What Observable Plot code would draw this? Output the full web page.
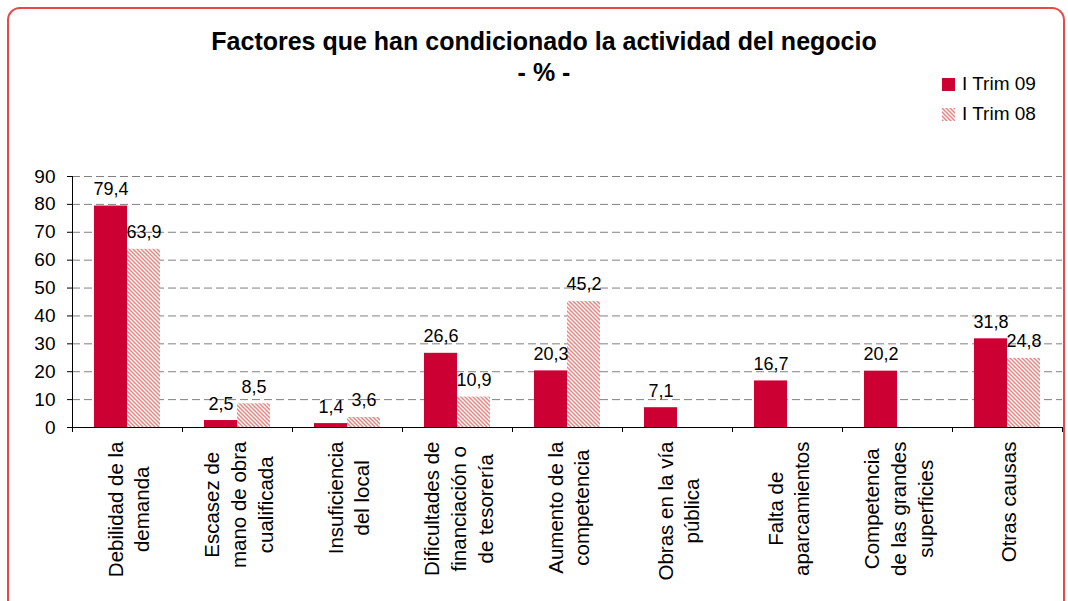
<!DOCTYPE html>
<html><head><meta charset="utf-8">
<script src="https://cdn.jsdelivr.net/npm/d3@7"></script>
<script src="https://cdn.jsdelivr.net/npm/@observablehq/plot@0.6"></script>
<style>
body{margin:0;background:#fff;overflow:hidden;font-family:"Liberation Sans",Arial,sans-serif;color:#000}
#wrap{position:relative;width:1068px;height:601px;overflow:hidden}
#chart{position:absolute;left:0;top:0}
#border{position:absolute;left:7px;top:7px;width:1054px;height:610px;border:2px solid #E8484A;border-radius:13px;pointer-events:none}
#title{position:absolute;left:0;width:1088px;top:26px;text-align:center;font-weight:bold;font-size:25px;line-height:31px}
#legend{position:absolute;left:942px;top:69px;font-size:19px}
#legend .row{display:flex;align-items:center;height:30px}
#legend svg{margin-right:7px}
#defs{position:absolute;width:0;height:0}
</style></head>
<body>
<svg id="defs"><defs>
<pattern id="hatch08" patternUnits="userSpaceOnUse" width="4" height="4">
<rect width="4" height="4" fill="#fff"/>
<path d="M-1,-1L5,5M-1,3L1,5M3,-1L5,1" stroke="#F08282" stroke-width="1.5"/>
</pattern></defs></svg>
<div id="wrap">
<div id="chart"></div>
<div id="title">Factores que han condicionado la actividad del negocio<br>- % -</div>
<div id="legend"></div>
<div id="border"></div>
</div>
<script>
const categories = ["Debilidad de la\ndemanda","Escasez de\nmano de obra\ncualificada","Insuficiencia\ndel local","Dificultades de\nfinanciación o\nde tesorería","Aumento de la\ncompetencia","Obras en la vía\npública","Falta de\naparcamientos","Competencia\nde las grandes\nsuperficies","Otras causas"];
const trim09 = [79.4,2.5,1.4,26.6,20.3,7.1,16.7,20.2,31.8];
const trim08 = [63.9,8.5,3.6,10.9,45.2,null,null,null,24.8];
const seriesNames = ["I Trim 09","I Trim 08"];
const seriesFills = ["#CC0033","url(#hatch08)"];
const yTicks = [0,10,20,30,40,50,60,70,80,90];

const W=1068,H=601,mL=72,mR=6,mT=176,mB=174;
const bw=(W-mL-mR)/categories.length;
const d09 = categories.map((c,i)=>({cat:c,v:trim09[i]}));
const d08 = categories.map((c,i)=>({cat:c,v:trim08[i]})).filter(d=>d.v!=null);
const fmt = v => d3.format(".1f")(v).replace(".",",");

const plot = Plot.plot({
  width:W,height:H,marginLeft:mL,marginRight:mR,marginTop:mT,marginBottom:mB,
  style:{background:"transparent",fontFamily:"'Liberation Sans', Arial, sans-serif",color:"#000"},
  x:{domain:categories,padding:0,label:null},
  y:{domain:[0,90],label:null},
  marks:[
    Plot.ruleY(yTicks.filter(t=>t>0),{stroke:"#808080",strokeDasharray:"8,4",strokeWidth:1}),
    Plot.barY(d09,{x:"cat",y:"v",fill:seriesFills[0],insetLeft:0.2*bw,insetRight:0.5*bw}),
    Plot.barY(d08,{x:"cat",y:"v",fill:seriesFills[1],insetLeft:0.5*bw,insetRight:0.2*bw}),
    Plot.text(d09,{x:"cat",y:"v",text:d=>fmt(d.v),dx:-0.15*bw,dy:-11,lineAnchor:"bottom",fontSize:18,fill:"#000"}),
    Plot.text(d08,{x:"cat",y:"v",text:d=>fmt(d.v),dx:0.15*bw,dy:-11,lineAnchor:"bottom",fontSize:18,fill:"#000"}),
    Plot.axisY({ticks:yTicks,tickSize:5,tickPadding:12,fontSize:19,tickFormat:d=>String(d),label:null}),
    Plot.frame({anchor:"left",stroke:"#000"}),
    Plot.ruleY([0],{stroke:"#000"}),
    Plot.axisX({tickSize:5,tickFormat:()=>"",dx:-bw/2,label:null}),
    Plot.axisX({ticks:[categories[categories.length-1]],tickSize:5,tickFormat:()=>"",dx:bw/2,label:null}),
    Plot.axisX({tickSize:0,tickRotate:-90,tickPadding:14,fontSize:20.5,lineHeight:1.3,label:null})
  ]
});
document.getElementById("chart").appendChild(plot);

// center-align multi-line rotated tick labels
d3.select(plot).selectAll('g[aria-label="x-axis tick label"] text').each(function(){
  const tsp = Array.from(this.querySelectorAll("tspan"));
  if (!tsp.length) return;
  const L = d3.max(tsp, t=>t.getComputedTextLength());
  this.setAttribute("text-anchor","middle");
  tsp.forEach(t=>t.setAttribute("x", -L/2));
});

// legend
const lg = d3.select("#legend");
seriesNames.forEach((n,i)=>{
  const r = lg.append("div").attr("class","row");
  r.append("svg").attr("width",13).attr("height",13)
   .append("rect").attr("width",13).attr("height",13).attr("fill",seriesFills[i]);
  r.append("span").text(n);
});
</script>
</body></html>
